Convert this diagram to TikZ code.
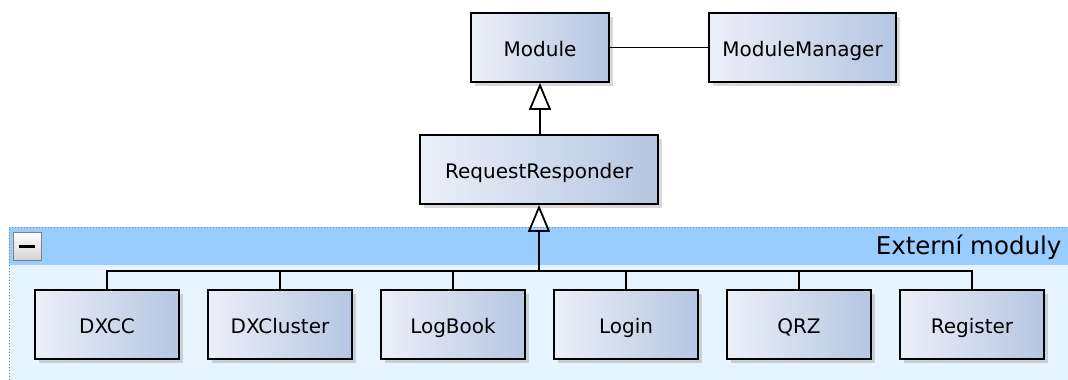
\documentclass[tikz,border=0pt]{standalone}
\usepackage{fontspec}
\setmainfont{DejaVu Sans}
\usetikzlibrary{arrows.meta,shadows,calc}

\definecolor{boxlight}{RGB}{236,240,248}
\definecolor{boxdark}{RGB}{180,198,226}
\definecolor{pkgband}{RGB}{153,204,255}
\definecolor{pkgbody}{RGB}{229,244,255}
\definecolor{pkgdots}{RGB}{120,130,170}

\tikzset{
    umlclass/.style={draw=black, line width=1.8pt, left color=boxlight, right color=boxdark,
        minimum height=69pt, inner sep=0pt, text height=17pt, text depth=0pt,
        font=\fontsize{20}{24}\selectfont,
        drop shadow={shadow xshift=4pt, shadow yshift=-4pt, opacity=0.3}},
    inherit/.style={line width=1.8pt, -{Triangle[open, length=27pt, width=22pt, line width=1.8pt]}},
    assoc/.style={line width=1.8pt}
}

\begin{document}
\begin{tikzpicture}[x=1pt, y=-1pt]
    \useasboundingbox (0,0) rectangle (1068,380);

    % package background
    \fill [pkgbody] (9,227) rectangle (1068,380);
    \fill [pkgband] (9,227) rectangle (1068,265);
    \draw [pkgdots, line width=1pt, dotted] (9,380) -- (9,227) -- (1068,227);
    \node [draw=gray, line width=1.2pt, top color=white, bottom color=gray!35,
           minimum size=28pt, inner sep=0pt] (toggle) at (27.5,246.5) {\rule{16pt}{3.5pt}};
    \node [anchor=base east, font=\fontsize{24.5}{29}\selectfont] (title) at (1065,254) {Externí moduly};

    % classes
    \coordinate (ModPos) at (540,47.5);
    \coordinate (MgrPos) at (802.5,47.5);
    \coordinate (RRPos)  at (539,169.5);

    \node [umlclass, minimum width=138pt] (mod) at (ModPos) {Module};
    \node [umlclass, minimum width=187pt] (mgr) at (MgrPos) {ModuleManager};
    \node [umlclass, minimum width=238pt] (rr)  at (RRPos)  {RequestResponder};

    \foreach \name [count=\i from 0] in {DXCC, DXCluster, LogBook, Login, QRZ, Register} {
        \node [umlclass, minimum width=144pt] (\name) at (107+173*\i, 324.5) {\name};
    }

    % connectors
    \coordinate (bus) at ($(rr.south |- 0,271)$);
    \draw [assoc] (mod) -- (mgr);
    \draw [inherit] (rr.north -| mod.south) -- (mod.south);
    \foreach \name in {DXCC, DXCluster, LogBook, Login, QRZ, Register} {
        \draw [assoc] (\name.north) |- (bus);
    }
    \draw [inherit] (bus) -- (bus |- rr.south);
\end{tikzpicture}
\end{document}
